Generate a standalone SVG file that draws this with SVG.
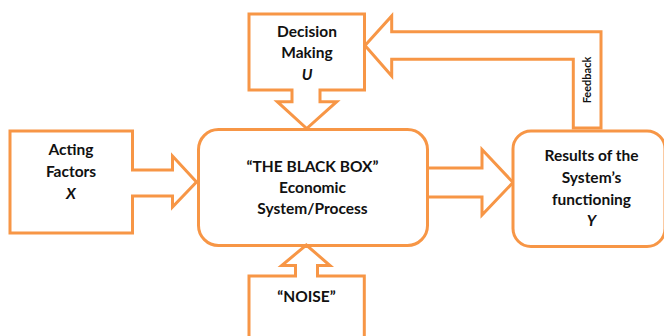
<svg xmlns="http://www.w3.org/2000/svg" width="664" height="336" viewBox="0 0 664 336">
<style>
.s{fill:#fff;stroke:#F79646;stroke-width:3;stroke-linejoin:miter}
.t{font-family:Lato,"Open Sans","Liberation Sans",sans-serif;font-weight:bold;font-size:15.5px;fill:#111;text-anchor:middle}
.i{font-style:italic}
.f{font-family:Lato,"Open Sans","Liberation Sans",sans-serif;font-weight:bold;font-size:11px;fill:#111;text-anchor:middle}
</style>
<rect width="664" height="336" fill="#fff"/>
<g id="connectors">
<path id="feedback" class="s" d="M601,128 L601,31.7 L391.7,31.7 L391.7,16 L365,45.5 L391.7,76 L391.7,59.3 L573.3,59.3 L573.3,128 Z"/>
<text class="f" transform="translate(591,80) rotate(-90)">Feedback</text>
<path id="output-arrow" class="s" d="M428,168 L482,168 L482,149.5 L513,182.5 L482,215 L482,197 L428,197"/>
</g>
<g id="black-box">
<rect class="s" x="198.5" y="129.5" width="229" height="116" rx="20"/>
<text class="t" x="312.5" y="172">“THE BLACK BOX”</text>
<text class="t" x="312.5" y="193">Economic</text>
<text class="t" x="312.5" y="214">System/Process</text>
</g>
<g id="decision-making">
<path class="s" d="M249,14 L364.5,14 L364.5,90 L320,90 L320,101.7 L336.7,101.7 L306.7,128.5 L277.3,101.7 L292,101.7 L292,90 L249,90 Z"/>
<text class="t" x="307" y="37">Decision</text>
<text class="t" x="307" y="58">Making</text>
<text class="t i" x="307" y="80">U</text>
</g>
<g id="acting-factors">
<path class="s" d="M10,131 L132.5,131 L132.5,170 L172.5,170 L172.5,156 L196.5,182 L172.5,207 L172.5,196 L132.5,196 L132.5,233 L10,233 Z"/>
<text class="t" x="71" y="155">Acting</text>
<text class="t" x="71" y="177">Factors</text>
<text class="t i" x="71" y="199">X</text>
</g>
<g id="results">
<rect class="s" x="513" y="131" width="152" height="115.5" rx="18"/>
<text class="t" x="591.5" y="161">Results of the</text>
<text class="t" x="591.5" y="183">System’s</text>
<text class="t" x="591.5" y="205">functioning</text>
<text class="t i" x="591.5" y="226">Y</text>
</g>
<g id="noise">
<path class="s" d="M249,340 L249,276 L295.5,276 L295.5,265.5 L281.7,265.5 L306.3,245 L330,265.5 L317.5,265.5 L317.5,276 L364.3,276 L364.3,340"/>
<text class="t" x="306.5" y="302">“NOISE”</text>
</g>
</svg>
